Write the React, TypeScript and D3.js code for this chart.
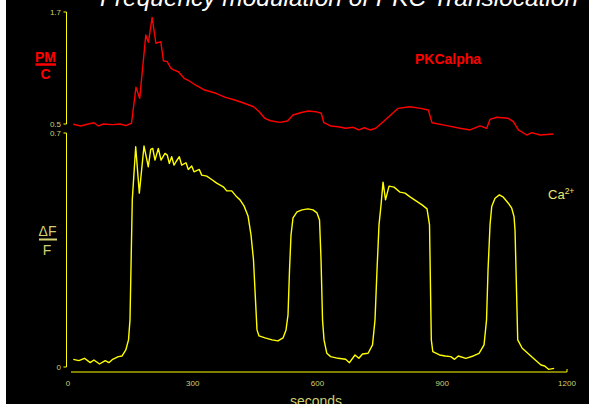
import React from "react";
import * as d3 from "d3";

// PKC alpha translocation (PM/C) trace: time (s) and value
const pkcTime = [12.7, 30.8, 48.8, 62.5, 73.1, 84.9, 107.5, 125.5, 139, 152.7, 163.5, 172.4, 187.1, 193.4, 202.3, 211.4, 223.2, 229.4, 238.6, 247.5, 254, 265.5, 279.2, 288.1, 306.2, 328.8, 355.9, 378.5, 401.2, 423.8, 446.4, 459.8, 473.3, 487, 509.6, 527.7, 541.1, 559.2, 577.2, 595.5, 609, 615.2, 631.6, 649.6, 667.6, 685.7, 699.4, 712.8, 726.3, 740, 758, 776.1, 794.1, 821.3, 848.2, 866.5, 875.4, 910.8, 942.8, 966.8, 990.9, 1007, 1014.9, 1031, 1058.9, 1071, 1083, 1103.2, 1115.2, 1135.2, 1167.2];
const pkcValue = [0.497, 0.479, 0.5, 0.514, 0.479, 0.5, 0.493, 0.5, 0.482, 0.508, 0.893, 0.775, 1.454, 1.375, 1.643, 1.365, 1.382, 1.178, 1.168, 1.097, 1.079, 1.06, 0.99, 0.971, 0.918, 0.864, 0.829, 0.786, 0.757, 0.722, 0.685, 0.632, 0.561, 0.535, 0.518, 0.532, 0.596, 0.621, 0.639, 0.632, 0.615, 0.514, 0.479, 0.471, 0.454, 0.465, 0.436, 0.46, 0.436, 0.454, 0.525, 0.596, 0.668, 0.685, 0.668, 0.65, 0.514, 0.482, 0.454, 0.436, 0.479, 0.454, 0.55, 0.572, 0.561, 0.525, 0.436, 0.382, 0.407, 0.382, 0.393];

// Ca2+ trace (ΔF/F): time (s) and value
const caTime = [12.7, 26.2, 39.7, 53.4, 62.3, 75.8, 89.5, 98.4, 107.5, 121, 130.1, 139, 145.5, 149.1, 154.6, 162.8, 171.5, 182.8, 193.1, 198.9, 203.7, 209.2, 217.2, 223.7, 233.3, 238.8, 243.6, 249.4, 254.9, 259.7, 267.7, 273.4, 283.8, 289.3, 297.5, 303, 315.8, 321.5, 333.6, 345.6, 357.6, 373.5, 381.7, 393.7, 405.7, 413.7, 423.3, 432.9, 440.1, 446.1, 450.9, 454.5, 459.4, 473.8, 490.6, 505, 517.1, 524.3, 529.1, 532.7, 536.3, 541.1, 550.7, 562.8, 577.2, 589.2, 598.8, 604.9, 608.5, 612.1, 615.7, 622.4, 631.6, 649.6, 667.6, 676.8, 690.2, 699.4, 708.3, 721.7, 732.3, 738.3, 743.1, 747.9, 752.8, 757.6, 763.6, 772, 784, 798.5, 810.5, 822.5, 836.9, 851.4, 863.4, 869.4, 871.8, 873.7, 877.3, 893.4, 907.2, 920.6, 929.5, 938.7, 956.7, 974.7, 988.5, 1000.5, 1006.5, 1010.1, 1014.9, 1019, 1026.9, 1037.3, 1046.9, 1058.9, 1067.1, 1072.6, 1075, 1078.6, 1081.5, 1092.3, 1110.4, 1123.8, 1137.5, 1146.4, 1155.6, 1169.1];
const caValue = [0.023, 0.019, 0.026, 0.013, 0.021, 0.009, 0.019, 0.013, 0.023, 0.031, 0.033, 0.051, 0.081, 0.141, 0.5, 0.659, 0.52, 0.661, 0.599, 0.651, 0.654, 0.619, 0.654, 0.619, 0.639, 0.634, 0.609, 0.629, 0.604, 0.614, 0.629, 0.604, 0.611, 0.591, 0.601, 0.584, 0.591, 0.574, 0.571, 0.561, 0.55, 0.539, 0.527, 0.527, 0.509, 0.5, 0.482, 0.452, 0.395, 0.32, 0.2, 0.111, 0.093, 0.087, 0.081, 0.078, 0.087, 0.111, 0.156, 0.29, 0.395, 0.446, 0.464, 0.47, 0.473, 0.47, 0.461, 0.44, 0.32, 0.141, 0.081, 0.041, 0.031, 0.026, 0.023, 0.013, 0.036, 0.026, 0.039, 0.041, 0.066, 0.141, 0.29, 0.425, 0.485, 0.553, 0.5, 0.541, 0.538, 0.523, 0.52, 0.509, 0.497, 0.485, 0.473, 0.425, 0.23, 0.081, 0.046, 0.036, 0.033, 0.031, 0.023, 0.033, 0.026, 0.033, 0.041, 0.066, 0.141, 0.29, 0.425, 0.48, 0.505, 0.515, 0.508, 0.49, 0.475, 0.45, 0.41, 0.23, 0.081, 0.056, 0.036, 0.021, 0.006, 0.003, -0.007, -0.004];

const xTicks = [0, 300, 600, 900, 1200];
const topTicks = [0.5, 1.7];
const bottomTicks = [0, 0.7];
const title = "Frequency modulation of PKC Translocation";

export default function App() {
  const W = 589, H = 404;
  const x = d3.scaleLinear().domain([0, 1200]).range([68, 567]);
  const yTop = d3.scaleLinear().domain([0.5, 1.7]).range([124, 12]);
  const yBot = d3.scaleLinear().domain([0, 0.7]).range([367, 133]);

  const pkcData = pkcTime.map((t, i) => [t, pkcValue[i]] as [number, number]);
  const caData = caTime.map((t, i) => [t, caValue[i]] as [number, number]);

  const lineTop = d3.line<[number, number]>().x(d => x(d[0])).y(d => yTop(d[1]));
  const lineBot = d3.line<[number, number]>().x(d => x(d[0])).y(d => yBot(d[1]));

  const axisX = 66.5;
  const yellow = "#ffff00";
  const pale = "#d0d070";
  const font = "'Liberation Sans', Arial, sans-serif";
  const axisY = 372;

  return (
    <svg width={W} height={H} style={{ position: "absolute", left: 0, top: 0 }} fontFamily={font}>
      <rect x={0} y={0} width={W} height={H} fill="#ffffff" />
      <rect x={6} y={0} width={W - 6} height={H} fill="#000000" />

      <text x={100} y={6} fill="#ffffff" fontSize={24} fontStyle="italic" textLength={478} lengthAdjust="spacingAndGlyphs">{title}</text>

      {/* top y axis bracket */}
      <path d={`M${axisX - 3},${yTop(1.7)}H${axisX}V${yTop(0.5)}H${axisX - 3}`} fill="none" stroke={yellow} strokeWidth={1} />
      {topTicks.map(t => (
        <text key={"tt" + t} x={61} y={yTop(t) + 3} fill={pale} fontSize={8} textAnchor="end">{t.toFixed(1)}</text>
      ))}

      {/* bottom y axis bracket */}
      <path d={`M${axisX - 3},${yBot(0.7)}H${axisX}V${yBot(0)}H${axisX - 3}`} fill="none" stroke={yellow} strokeWidth={1} />
      {bottomTicks.map(t => (
        <text key={"bt" + t} x={61} y={yBot(t) + 3} fill={pale} fontSize={8} textAnchor="end">{t === 0 ? "0" : t.toFixed(1)}</text>
      ))}

      {/* x axis */}
      <path d={`M${x(0) + 3},${axisY}H${x(1200)}V${axisY - 3}`} fill="none" stroke={yellow} strokeWidth={1} />
      {xTicks.map(t => (
        <text key={"xt" + t} x={x(t)} y={386} fill={pale} fontSize={8} textAnchor="middle">{t}</text>
      ))}
      <text x={316} y={405.5} fill={pale} fontSize={14} textAnchor="middle">seconds</text>

      {/* series */}
      <path d={lineTop(pkcData) || ""} fill="none" stroke="#ff0000" strokeWidth={1.4} strokeLinejoin="round" />
      <path d={lineBot(caData) || ""} fill="none" stroke={yellow} strokeWidth={1.4} strokeLinejoin="round" />

      {/* PM / C label */}
      <text x={45.5} y={61.5} fill="#ff0000" fontSize={14} fontWeight="bold" textAnchor="middle">PM</text>
      <line x1={35.5} x2={56} y1={64.5} y2={64.5} stroke="#ff0000" strokeWidth={2.5} />
      <text x={45.5} y={78.5} fill="#ff0000" fontSize={14} fontWeight="bold" textAnchor="middle">C</text>

      {/* ΔF / F label */}
      <text x={47.5} y={235.5} fill={pale} fontSize={14} textAnchor="middle">ΔF</text>
      <line x1={39} x2={57} y1={239.5} y2={239.5} stroke={pale} strokeWidth={2} />
      <text x={47} y={255} fill={pale} fontSize={14} textAnchor="middle">F</text>

      <text x={415} y={63.5} fill="#ff0000" fontSize={14} fontWeight="bold">PKCalpha</text>
      <text x={548} y={199} fill="#e8e870" fontSize={13}>
        Ca<tspan dy={-5} fontSize={8.5}>2+</tspan>
      </text>
    </svg>
  );
}
